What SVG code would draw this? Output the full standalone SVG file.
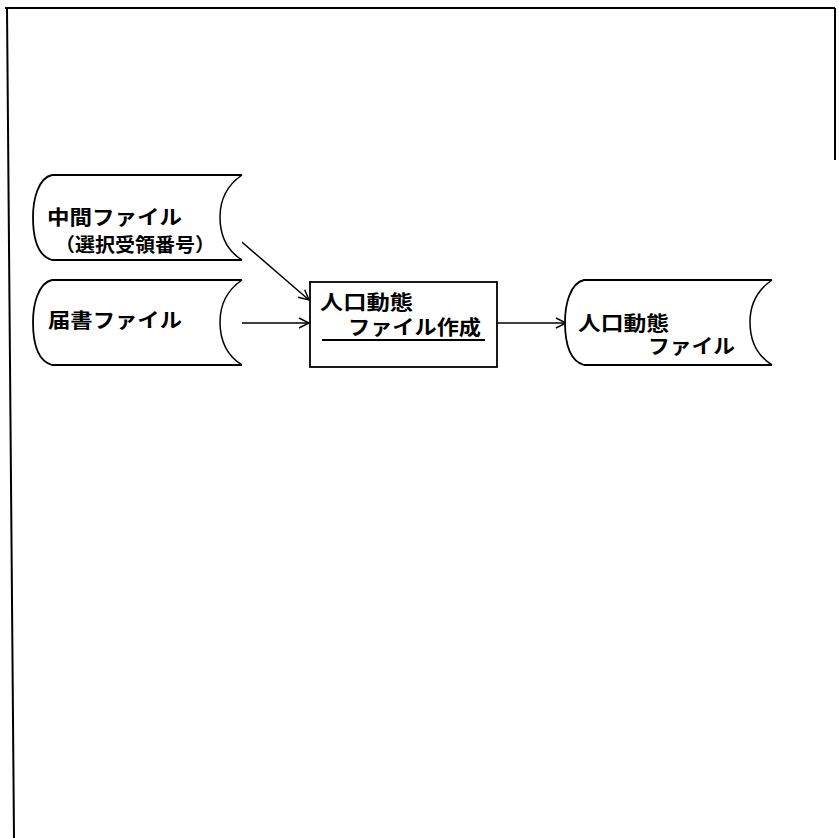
<svg xmlns="http://www.w3.org/2000/svg" width="839" height="838" viewBox="0 0 839 838">
<style>
.shape{fill:#fff;stroke:#000;stroke-width:1.8;}
.line{fill:none;stroke:#000;stroke-width:1.5;}
.frame{fill:none;stroke:#000;stroke-width:2;}
text{font-family:"Noto Sans CJK JP","Noto Sans CJK SC",sans-serif;font-size:20px;font-weight:bold;fill:#000;}
</style>
<defs>
<marker id="arr" viewBox="0 0 12 12" refX="11" refY="6" markerWidth="12" markerHeight="12" markerUnits="userSpaceOnUse" orient="auto">
<path d="M1,1 L11,6 L1,11" fill="none" stroke="#000" stroke-width="1.5"/>
</marker>
</defs>
<rect width="839" height="838" fill="#fff"/>
<g id="frame">
<path class="frame" d="M5,8 L835,8 M7,8 L14,838 M835,8 L835,160"/>
</g>
<g id="connectors">
<path class="line" d="M221,224 L309,300" marker-end="url(#arr)"/>
<path class="line" d="M221,323 L309,323" marker-end="url(#arr)"/>
<path class="line" d="M497,323 L566,323" marker-end="url(#arr)"/>
</g>
<g id="node-chukan">
<path class="shape" d="M242,175 L52,175 C38,178 33,200 33,217 C33,238 38,256 52,260 L242,260"/>
<path class="line" d="M242,175 C226,186 220,200 220,217 C220,236 226,250 242,260"/>
<text x="47" y="225" textLength="135" lengthAdjust="spacingAndGlyphs">中間ファイル</text>
<text x="55" y="252" textLength="160" lengthAdjust="spacingAndGlyphs" style="font-size:19px">（選択受領番号）</text>
</g>
<g id="node-todoke">
<path class="shape" d="M242,280 L52,280 C38,283 33,305 33,322 C33,343 38,361 52,365 L242,365"/>
<path class="line" d="M242,280 C226,291 220,305 220,322 C220,341 226,355 242,365"/>
<text x="48" y="328" textLength="134" lengthAdjust="spacingAndGlyphs">届書ファイル</text>
</g>
<g id="node-process">
<rect class="shape" x="310" y="282" width="187" height="85"/>
<text x="320" y="310" textLength="93" lengthAdjust="spacingAndGlyphs">人口動態</text>
<text x="348" y="335" textLength="133" lengthAdjust="spacingAndGlyphs">ファイル作成</text>
<path class="line" d="M322,340 L485,340" style="stroke-width:2"/>
</g>
<g id="node-output">
<path class="shape" d="M772,280 L584,280 C570,283 565,305 565,322 C565,343 570,361 584,365 L772,365"/>
<path class="line" d="M772,280 C756,291 750,305 750,322 C750,341 756,355 772,365"/>
<text x="578" y="331" textLength="91" lengthAdjust="spacingAndGlyphs">人口動態</text>
<text x="648" y="354" textLength="87" lengthAdjust="spacingAndGlyphs">ファイル</text>
</g>
</svg>
